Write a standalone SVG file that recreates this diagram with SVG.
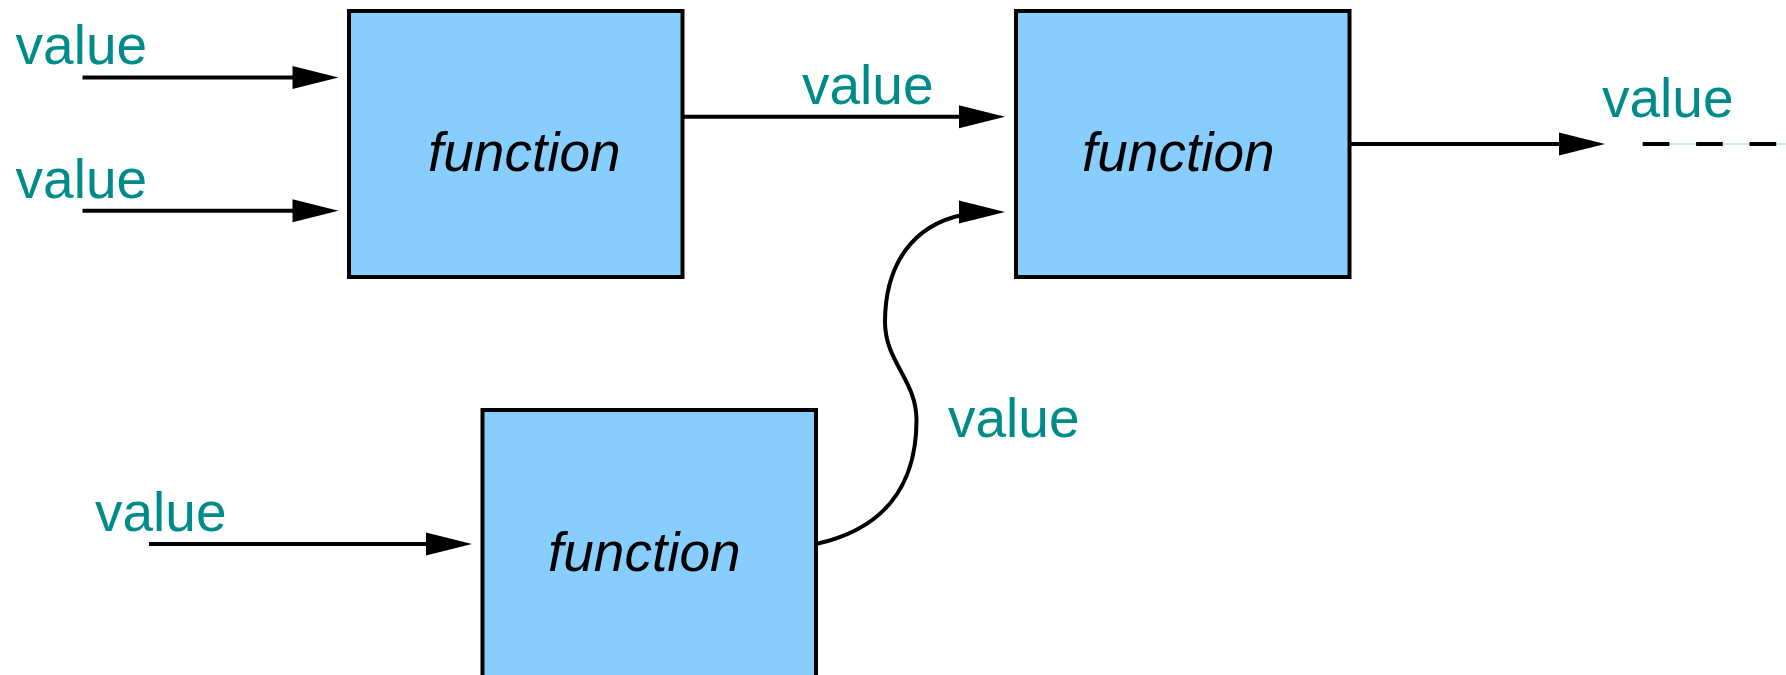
<svg xmlns="http://www.w3.org/2000/svg" xmlns:xlink="http://www.w3.org/1999/xlink" width="1786" height="675" viewBox="0 0 1786 675">
<style>
.box{fill:#87CEFF;stroke:#000;stroke-width:4}
.fn{font-family:"Liberation Sans",Arial,sans-serif;font-style:italic;font-size:55px;fill:#000}
.val{font-family:"Liberation Sans",Arial,sans-serif;font-size:55px;fill:#008B8B}
.ln{fill:none;stroke:#000;stroke-width:4}
</style>
<defs>
<path id="ah" d="M0,0 L-46,-11.5 L-46,11.5 Z" fill="#000"/>
</defs>
<rect width="1786" height="675" fill="#fff"/>
<g id="node-f1">
<rect class="box" x="349" y="11" width="333.5" height="266"/>
<text class="fn" x="428" y="171">function</text>
</g>
<g id="node-f2">
<rect class="box" x="1016" y="11" width="333.5" height="266"/>
<text class="fn" x="1082" y="171">function</text>
</g>
<g id="node-f3">
<rect class="box" x="482.5" y="410" width="333.5" height="300"/>
<text class="fn" x="548" y="571">function</text>
</g>
<g id="connectors">
<line class="ln" x1="82.5" y1="77.5" x2="294" y2="77.5"/>
<use xlink:href="#ah" x="338.5" y="77.5"/>
<line class="ln" x1="82.5" y1="210.7" x2="294" y2="210.7"/>
<use xlink:href="#ah" x="338.5" y="210.7"/>
<line class="ln" x1="684" y1="116.7" x2="960" y2="116.7"/>
<use xlink:href="#ah" x="1005" y="116.7"/>
<line class="ln" x1="1351" y1="144" x2="1560" y2="144"/>
<use xlink:href="#ah" x="1605" y="144"/>
<line x1="1642.7" y1="144" x2="1786" y2="144" stroke="#BFE0F7" stroke-width="1.5"/>
<line x1="1642.7" y1="144" x2="1786" y2="144" stroke="#000" stroke-width="4" stroke-dasharray="26.7 26.7"/>
<line class="ln" x1="149" y1="544" x2="427" y2="544"/>
<use xlink:href="#ah" x="472" y="544"/>
<path class="ln" stroke-width="3.5" d="M816,544 C880,530 916.5,490 916.5,420 C916.5,380 885,362 885,322 C885,262 915,225 962,215"/>
<use xlink:href="#ah" x="1005" y="212"/>
</g>
<g id="labels">
<text class="val" x="15.6" y="64">value</text>
<text class="val" x="15.6" y="198">value</text>
<text class="val" x="802" y="104">value</text>
<text class="val" x="1602" y="117">value</text>
<text class="val" x="95" y="531">value</text>
<text class="val" x="948" y="437">value</text>
</g>
</svg>
